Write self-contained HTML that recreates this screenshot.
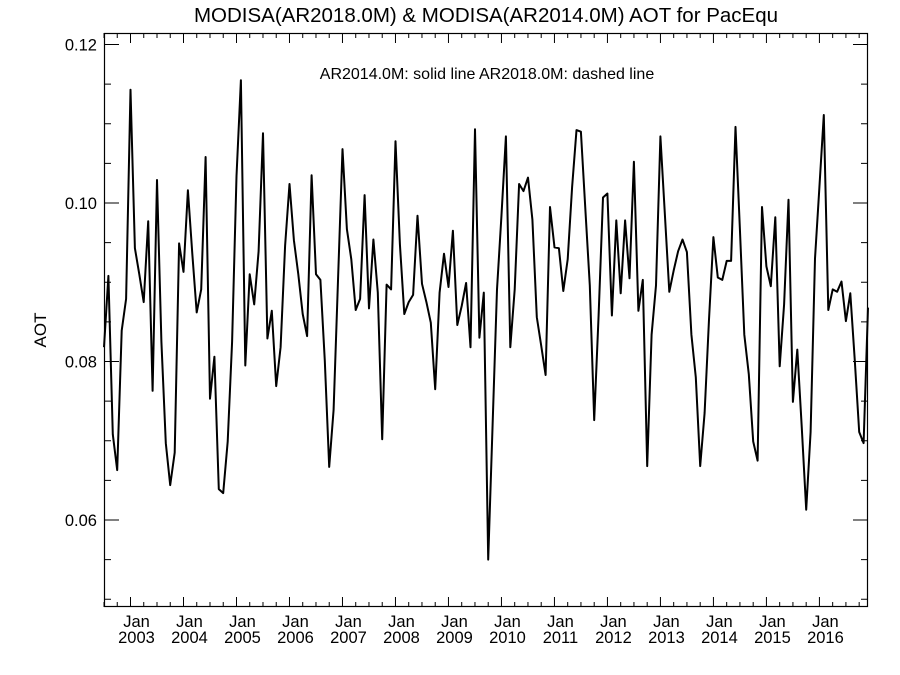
<!DOCTYPE html>
<html><head><meta charset="utf-8"><style>
body{margin:0;background:#fff;}
svg{display:block;font-family:"Liberation Sans",sans-serif;}
</style></head><body>
<svg id="chart" width="900" height="675" viewBox="0 0 900 675" xmlns="http://www.w3.org/2000/svg">
<rect width="900" height="675" fill="#fff"/>
<text x="486" y="22" font-size="20.5" text-anchor="middle">MODISA(AR2018.0M) &amp; MODISA(AR2014.0M)  AOT for PacEqu</text>
<text x="487" y="79" font-size="16" text-anchor="middle">AR2014.0M: solid line   AR2018.0M: dashed line</text>
<text transform="translate(46,330) rotate(-90)" font-size="17" text-anchor="middle">AOT</text>
<g id="axes"></g>
<path id="series" fill="none" stroke="#000" stroke-width="2" stroke-linejoin="round"/>
</svg>
<script>
const startYear = 2002, startMonth = 7;
const aotValues = [
.0818,.0908,.0708,.0663,.0839,.0879,.1143,.0943,.0910,.0875,
.0977,.0763,.1029,.0825,.0697,.0644,.0685,.0949,.0913,.1016,
.0936,.0862,.0891,.1058,.0753,.0806,.0639,.0634,.0699,.0825,
.1034,.1155,.0795,.0910,.0872,.0939,.1088,.0829,.0864,.0769,
.0818,.0946,.1024,.0953,.0910,.0860,.0832,.1035,.0910,.0903,
.0801,.0667,.0739,.0906,.1068,.0967,.0929,.0865,.0879,.1010,
.0867,.0954,.0887,.0702,.0897,.0891,.1078,.0948,.0860,.0875,
.0884,.0984,.0898,.0875,.0849,.0765,.0887,.0936,.0894,.0965,
.0846,.0870,.0899,.0818,.1093,.0830,.0887,.0550,.0720,.0891,
.0985,.1084,.0818,.0891,.1024,.1015,.1032,.0979,.0856,.0820,
.0783,.0995,.0944,.0943,.0889,.0929,.1020,.1092,.1090,.0991,
.0896,.0726,.0858,.1007,.1012,.0858,.0978,.0886,.0978,.0905,
.1052,.0864,.0903,.0668,.0834,.0896,.1084,.0985,.0888,.0915,
.0939,.0954,.0938,.0834,.0780,.0668,.0735,.0853,.0957,.0906,
.0903,.0927,.0927,.1096,.0967,.0834,.0784,.0699,.0675,.0995,
.0920,.0895,.0982,.0794,.0872,.1004,.0749,.0815,.0716,.0613,
.0711,.0930,.1020,.1111,.0865,.0891,.0888,.0901,.0851,.0886,
.0801,.0711,.0697,.0868];
const yTickValues = [0.06, 0.08, 0.10, 0.12];
const yTickLabels = ["0.06","0.08","0.10","0.12"];
const xYearLabels = ["2003","2004","2005","2006","2007","2008","2009","2010","2011","2012","2013","2014","2015","2016"];

const L=104, R=868, T=33, B=607;
const nMonths = 173;
function xScale(i){ return L + i*(R-L)/nMonths; }
function yScale(v){ return 44.5 + (0.12 - v)*7925; }
const NS="http://www.w3.org/2000/svg";
const axes=document.getElementById('axes');
function line(x1,y1,x2,y2,name){
  const l=document.createElementNS(NS,'line');
  l.setAttribute('x1',x1);l.setAttribute('y1',y1);l.setAttribute('x2',x2);l.setAttribute('y2',y2);
  l.setAttribute('stroke','#000');l.setAttribute('stroke-width','1');
  
  
  axes.appendChild(l);
}
function text(x,y,s,anchor,name,size){
  const t=document.createElementNS(NS,'text');
  t.setAttribute('x',x);t.setAttribute('y',y);t.setAttribute('font-size',size||16);
  t.setAttribute('text-anchor',anchor);t.textContent=s;
  
  
  axes.appendChild(t);
}
const fr=document.createElementNS(NS,'rect');
fr.setAttribute('x',L+0.5);fr.setAttribute('y',T+0.5);fr.setAttribute('width',R-L-1);fr.setAttribute('height',B-T-1);
fr.setAttribute('fill','none');fr.setAttribute('stroke','#000');fr.setAttribute('stroke-width','1.2');


axes.appendChild(fr);
// y minor ticks
for(let k=0;k<=14;k++){
  const v=0.05+k*0.005, y=yScale(v);
  if(y<T||y>B) continue;
  const major = Math.abs((v*100)%2)<1e-6 || Math.abs((v*100)%2-2)<1e-6;
  const len = major?15:7;
  line(L,y,L+len,y,'y-tick');
  line(R,y,R-len,y,'y-tick-right');
}
yTickValues.forEach((v,i)=>{ text(97,yScale(v)+6,yTickLabels[i],'end','y-tick-label',16.5); });
// x ticks every 3 months
for(let i=0;i<=nMonths;i++){
  const m=(startMonth-1+i)%12;
  if(m%3!==0) continue;
  const x=xScale(i), len=(m===0)?10:5;
  line(x,B,x,B-len,'x-tick');
  line(x,T,x,T+len,'x-tick-top');
  if(m===0){
    const yr=startYear+Math.floor((startMonth-1+i)/12);
    const idx=xYearLabels.indexOf(String(yr));
    if(idx>=0){
      text(x+6,627,'Jan','middle','x-month-label',16.5);
      text(x+6,643,xYearLabels[idx],'middle','x-year-label',16.5);
    }
  }
}
let d='';
aotValues.forEach((v,i)=>{ d+=(i?'L':'M')+xScale(i).toFixed(1)+' '+yScale(v).toFixed(1); });
document.getElementById('series').setAttribute('d',d);
</script>
</body></html>
